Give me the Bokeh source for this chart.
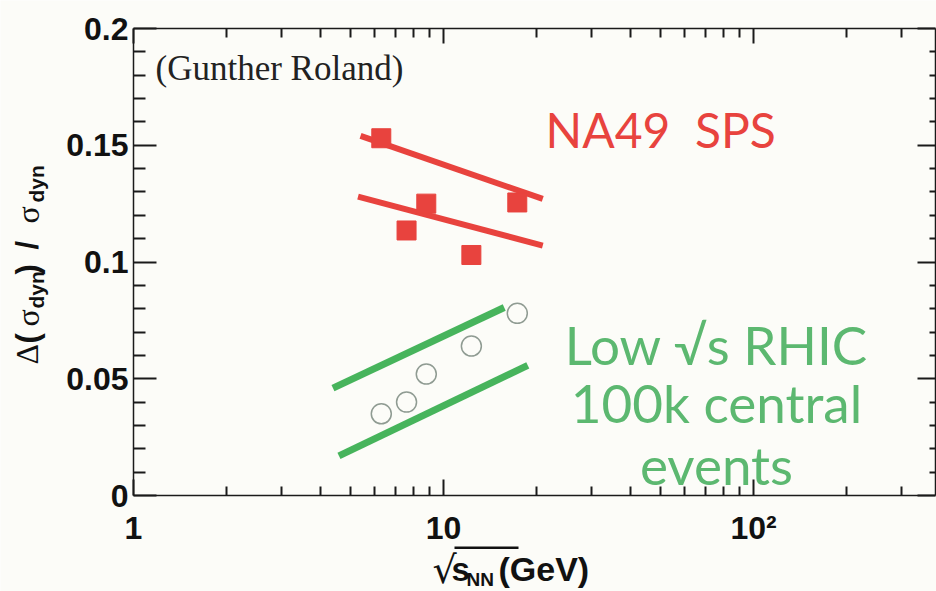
import numpy as np
from bokeh.plotting import figure
from bokeh.models import (Range1d, LogAxis, LinearAxis, FixedTicker, Label, BoxAnnotation,
                          CustomJSTickFormatter)
from bokeh.embed import file_html
from bokeh.resources import INLINE

# ---------------- data ----------------
# NA49 SPS points: sqrt(s_NN) [GeV] vs Delta(sigma_dyn)/sigma_dyn
na49_sqrt_s = [6.3, 7.6, 8.8, 12.3, 17.3]
na49_delta = [0.153, 0.1135, 0.125, 0.103, 0.1255]

# NA49 band lines (upper, lower)
na49_line_x = [[5.4, 20.9], [5.3, 20.9]]
na49_line_y = [[0.154, 0.127], [0.128, 0.107]]

# Low sqrt(s) RHIC projected points
rhic_sqrt_s = [6.3, 7.6, 8.8, 12.3, 17.3]
rhic_delta = [0.035, 0.040, 0.052, 0.064, 0.078]

# RHIC band lines (upper, lower)
rhic_line_x = [[4.4, 15.7], [4.6, 18.7]]
rhic_line_y = [[0.046, 0.0805], [0.017, 0.0557]]

# ticks
x_major = [1, 10, 100]
x_minor = [2, 3, 4, 5, 6, 7, 8, 9, 20, 30, 40, 50, 60, 70, 80, 90, 200, 300]
x_tick_labels = {1: "1", 10: "10", 100: "10²"}
y_major = [0, 0.05, 0.1, 0.15, 0.2]
y_minor = [0.01, 0.02, 0.03, 0.04, 0.06, 0.07, 0.08, 0.09, 0.11, 0.12, 0.13, 0.14,
           0.16, 0.17, 0.18, 0.19]
y_tick_labels = {0: "0", 0.05: "0.05", 0.1: "0.1", 0.15: "0.15", 0.2: "0.2"}
x_lo, y_lo, y_hi = 1, 0, 0.2

# ---------------- style / layout ----------------
RED = "#e8433e"
GREEN = "#47b45c"
GREEN_TEXT = "#5cb870"
CIRCLE_LINE = "#8f9b92"
BG = "#fcfcf8"
AX = "#1a1a1a"

W, H = 936, 591
FL, FT, FB, FR = 133, 28, 495, 935      # axes box in window pixels
DEC = 310.0                               # pixels per decade on x
YPX = (FB - FT) / (y_hi - y_lo)           # pixels per unit on y

# the plotting frame covers the whole canvas; the axes are drawn at fixed locations
x_start = 10 ** ((0 - FL) / DEC)
x_end = 10 ** ((W - FL) / DEC)
x_right = 10 ** ((FR - FL) / DEC)
y_start = y_lo - (H - FB) / YPX
y_end = y_lo + FB / YPX

p = figure(width=W, height=H, x_axis_type="log",
           x_range=Range1d(x_start, x_end), y_range=Range1d(y_start, y_end),
           output_backend="svg", toolbar_location=None,
           min_border_left=0, min_border_right=0, min_border_top=0,
           min_border_bottom=0,
           background_fill_color=BG, border_fill_color=BG)
p.outline_line_color = None
p.xgrid.visible = False
p.ygrid.visible = False

def style_axis(ax, maj_in, min_in):
    ax.axis_line_color = AX
    ax.axis_line_width = 1.5
    ax.major_tick_line_color = AX
    ax.minor_tick_line_color = AX
    ax.major_tick_line_width = 2
    ax.minor_tick_line_width = 2
    ax.major_tick_in = maj_in
    ax.major_tick_out = 0
    ax.minor_tick_in = min_in
    ax.minor_tick_out = 0

xa = p.xaxis[0]
xa.ticker = FixedTicker(ticks=x_major, minor_ticks=x_minor)
xa.major_label_overrides = x_tick_labels
xa.major_label_text_font = "Liberation Sans"
xa.major_label_text_font_style = "bold"
xa.major_label_text_font_size = "32px"
xa.major_label_text_color = "#111111"
xa.major_label_standoff = 14
xa.fixed_location = y_lo
xa.bounds = (x_lo, x_right)
style_axis(xa, 16, 9)

ya = p.yaxis[0]
ya.ticker = FixedTicker(ticks=y_major, minor_ticks=y_minor)
ya.major_label_overrides = y_tick_labels
ya.major_label_text_font = "Liberation Sans"
ya.major_label_text_font_style = "bold"
ya.major_label_text_font_size = "32px"
ya.major_label_text_color = "#111111"
ya.major_label_standoff = 5
ya.fixed_location = x_lo
ya.bounds = (y_lo, y_hi)
style_axis(ya, 23, 12)

top = LogAxis(ticker=FixedTicker(ticks=x_major, minor_ticks=x_minor),
              formatter=CustomJSTickFormatter(code="return ''"),
              major_label_text_font_size="8px", major_label_standoff=0,
              fixed_location=y_hi, bounds=(x_lo, x_right))
style_axis(top, 15, 9)
p.add_layout(top, "above")

right = LinearAxis(ticker=FixedTicker(ticks=y_major, minor_ticks=y_minor),
                   formatter=CustomJSTickFormatter(code="return ''"),
                   major_label_text_font_size="8px", major_label_standoff=0,
                   fixed_location=x_right, bounds=(y_lo, y_hi))
style_axis(right, 18, 6)
p.add_layout(right, "right")

# ---------------- glyphs ----------------
p.multi_line(xs=na49_line_x, ys=na49_line_y, line_color=RED, line_width=6)
p.scatter(na49_sqrt_s, na49_delta, marker="square", size=19,
          fill_color=RED, line_color=RED)

p.multi_line(xs=rhic_line_x, ys=rhic_line_y, line_color=GREEN, line_width=7)
p.scatter(rhic_sqrt_s, rhic_delta, marker="circle", size=20,
          fill_color=None, line_color=CIRCLE_LINE, line_width=1.5)

# ---------------- texts (X, Y = baseline start in window pixels) ----------------
# distance from the text's middle to its baseline, in em, per font
MID = {"Lato": 0.387, "Liberation Serif": 0.3375, "Liberation Sans": 0.3465,
       "DejaVu Sans": 0.346}

def lab(text, X, Y, size, font="Liberation Sans", style="normal", color="#111111",
        align="left", angle=0.0):
    d = MID[font] * size
    if angle == 0.0:
        ax_, ay_ = X, Y - d
    else:
        ax_, ay_ = X - d, Y
    p.add_layout(Label(x=ax_, y=H - ay_, x_units="screen", y_units="screen",
                       text=text, text_font=font, text_font_style=style,
                       text_font_size=f"{size}px", text_color=color,
                       text_align=align, text_baseline="middle",
                       angle=angle))

NB = "\u00a0"
lab("(Gunther Roland)", 155, 80, 35, font="Liberation Serif", color="#222222")
lab("NA49" + NB * 2 + "SPS", 545, 148, 48, font="Lato", color=RED)
lab("Low √s RHIC", 716, 365, 53, font="Lato", color=GREEN_TEXT, align="center")
lab("100k central", 716, 423, 53, font="Lato", color=GREEN_TEXT, align="center")
lab("events", 716, 485, 53, font="Lato", color=GREEN_TEXT, align="center")

# y-axis title: Δ(σ_dyn) / σ_dyn, rotated
A = np.pi / 2
lab("Δ", 37, 364, 32, font="Liberation Serif", angle=A)
lab("(", 38, 343, 31, style="bold", angle=A)
lab("σ", 38, 326, 32, font="Liberation Serif", angle=A)
lab("dyn", 43, 308, 21, style="bold", angle=A)
lab(")", 38, 274, 31, style="bold", angle=A)
lab("/", 38, 249, 31, style="bold", angle=A)
lab("σ", 38, 223, 32, font="Liberation Serif", angle=A)
lab("dyn", 43, 202, 21, style="bold", angle=A)

# x-axis title: √s_NN (GeV)
lab("√", 432, 583, 38, font="DejaVu Sans")
lab("s", 451, 580, 33, style="bold")
lab("NN", 466, 586, 19, style="bold")
lab("(GeV)", 498, 580, 34, style="bold")
p.add_layout(BoxAnnotation(left=454, right=518, top=H - 546, bottom=H - 548.5,
                           left_units="screen", right_units="screen",
                           top_units="screen", bottom_units="screen",
                           fill_color="#111111", fill_alpha=1.0, line_color=None))

open("out.html", "w").write(file_html(p, INLINE))
